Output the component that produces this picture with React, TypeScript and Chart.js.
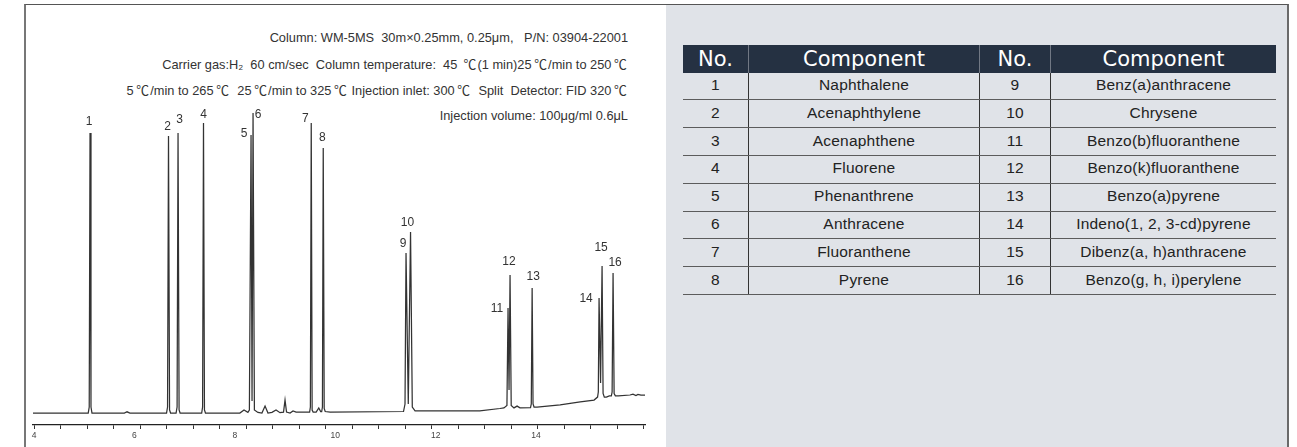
import React, { useEffect, useRef } from "react";
import { Chart, registerables } from "chart.js";

Chart.register(...registerables);

// ---- chromatogram trace (retention time in min, detector signal in arbitrary units) ----
const retentionTime: number[] = [
  3.98, 4.52, 5.08, 5.1, 5.116, 5.135, 5.155, 5.8, 5.853, 5.91,
  6.64, 6.66, 6.679, 6.7, 6.72, 6.83, 6.85, 6.869, 6.89, 6.91,
  7.34, 7.358, 7.376, 7.395, 7.415, 8.1, 8.183, 8.26, 8.29, 8.323,
  8.343, 8.363, 8.39, 8.46, 8.54, 8.602, 8.66, 8.74, 8.821, 8.9,
  8.97, 9.0, 9.03, 9.1, 9.159, 9.22, 9.49, 9.505, 9.522, 9.54,
  9.56, 9.62, 9.672, 9.71, 9.73, 9.745, 9.761, 9.78, 9.8, 9.9,
  11.36, 11.39, 11.41, 11.455, 11.5, 11.535, 11.59, 12.88, 13.28, 13.36,
  13.42, 13.442, 13.462, 13.482, 13.505, 13.56, 13.622, 13.68, 13.89, 13.905,
  13.922, 13.94, 13.96, 14.02, 14.48, 14.88, 15.155, 15.225, 15.24, 15.255,
  15.285, 15.315, 15.335, 15.36, 15.4, 15.46, 15.5, 15.515, 15.534, 15.555,
  15.58, 15.64, 15.87, 15.93, 15.99, 16.03, 16.09, 16.17,
];
const detectorSignal: number[] = [
  4.0, 4.0, 4.0, 6.0, 97.3, 6.0, 4.0, 4.0, 4.4, 4.0,
  4.0, 6.0, 96.3, 5.0, 4.0, 4.0, 6.0, 97.3, 5.0, 4.0,
  4.0, 6.0, 100.7, 5.0, 4.0, 4.0, 5.0, 4.2, 5.0, 96.7,
  8.0, 104.0, 5.0, 4.2, 4.0, 6.3, 4.0, 4.2, 5.0, 4.1,
  4.3, 8.3, 4.3, 4.0, 4.7, 4.3, 4.3, 6.0, 100.7, 5.0,
  4.3, 4.3, 5.7, 4.5, 4.5, 6.0, 92.3, 5.5, 4.5, 4.3,
  4.5, 7.0, 57.3, 7.0, 64.3, 6.0, 4.7, 4.7, 5.5, 5.7,
  6.5, 39.0, 11.7, 50.0, 6.5, 5.7, 6.3, 5.7, 5.8, 7.0,
  45.7, 7.0, 6.0, 6.0, 6.7, 7.7, 8.3, 9.3, 11.0, 42.3,
  14.0, 53.0, 10.5, 9.3, 9.3, 9.7, 9.7, 11.0, 50.7, 10.5,
  9.7, 9.7, 10.0, 10.3, 9.8, 10.2, 10.0, 10.0,
];

// ---- peak identification ----
const peakNumbers = ["1", "2", "3", "4", "5", "6", "7", "8", "9", "10", "11", "12", "13", "14", "15", "16"];
const peakTimes = [5.116, 6.679, 6.869, 7.376, 8.323, 8.363, 9.522, 9.761, 11.41, 11.5, 13.442, 13.482, 13.922, 15.255, 15.315, 15.534];
const peakHeights = [97.3, 96.3, 97.3, 100.7, 96.7, 104.0, 100.7, 92.3, 57.3, 64.3, 39.0, 50.0, 45.7, 42.3, 53.0, 50.7];

// ---- axis ----
const timeAxisLabels = [4, 6, 8, 10, 12, 14];
const timeAxisMarks = [4, 4.5, 5, 5.5, 6, 6.5, 7, 7.5, 8, 8.5, 9, 9.5, 10, 10.5, 11, 11.5, 12, 12.5, 13, 13.5, 14, 14.5, 15, 15.5];

// ---- texts ----
const conditionLines = [
  "Column: WM-5MS  30m×0.25mm, 0.25μm,   P/N: 03904-22001",
  "Carrier gas:H₂  60 cm/sec  Column temperature:  45 ℃(1 min)25℃/min to 250℃",
  "5℃/min to 265℃  25℃/min to 325℃ Injection inlet: 300℃  Split  Detector: FID 320℃",
  "Injection volume: 100μg/ml 0.6μL",
];
const tableHeaders = ["No.", "Component", "No.", "Component"];
const tableNumbersA = ["1", "2", "3", "4", "5", "6", "7", "8"];
const tableComponentsA = ["Naphthalene", "Acenaphthylene", "Acenaphthene", "Fluorene", "Phenanthrene", "Anthracene", "Fluoranthene", "Pyrene"];
const tableNumbersB = ["9", "10", "11", "12", "13", "14", "15", "16"];
const tableComponentsB = ["Benz(a)anthracene", "Chrysene", "Benzo(b)fluoranthene", "Benzo(k)fluoranthene", "Benzo(a)pyrene", "Indeno(1, 2, 3-cd)pyrene", "Dibenz(a, h)anthracene", "Benzo(g, h, i)perylene"];

// ---- styling (label placement relative to the apex, px) ----
const peakLabelOffsets: [number, number][] = [
  [-1, -11], [-1, -9], [1.5, -13], [0, -8], [-7, -1], [5, 2], [-6, -4], [-1, -10],
  [-3, -9], [-3, -9], [-11, 1], [-1, -13], [1, -11], [-13, 1], [-1, -18], [2, -10],
];

const SANS = "'Liberation Sans', Arial, 'Noto Sans CJK SC', sans-serif";

const peakLabelPlugin = {
  id: "peakLabels",
  afterDatasetsDraw(chart: any) {
    const { ctx, scales } = chart;
    ctx.save();
    ctx.font = `12px ${SANS}`;
    ctx.fillStyle = "#333";
    ctx.textAlign = "center";
    ctx.textBaseline = "middle";
    peakNumbers.forEach((n, i) => {
      const x = scales.x.getPixelForValue(peakTimes[i]) + peakLabelOffsets[i][0];
      const y = scales.y.getPixelForValue(peakHeights[i]) + peakLabelOffsets[i][1];
      ctx.fillText(n, x, y);
    });
    ctx.restore();
  },
};

const colWidths = [66, 231, 71, 225];

function renderCondition(line: string) {
  const parts = line.split("℃");
  const out: React.ReactNode[] = [];
  parts.forEach((p, i) => {
    out.push(<span key={"t" + i}>{p}</span>);
    if (i < parts.length - 1)
      out.push(
        <span
          key={"c" + i}
          style={{ fontFamily: "'Noto Sans CJK SC', sans-serif", marginLeft: 2.6, marginRight: 1.2 }}
        >
          ℃
        </span>
      );
  });
  return out;
}

export default function App() {
  const canvasRef = useRef<HTMLCanvasElement | null>(null);

  useEffect(() => {
    if (!canvasRef.current) return;
    const chart = new Chart(canvasRef.current, {
      type: "line",
      data: {
        datasets: [
          {
            data: retentionTime.map((t, i) => ({ x: t, y: detectorSignal[i] })),
            borderColor: "#333",
            borderWidth: 1.25,
            pointRadius: 0,
            tension: 0,
            fill: false,
          },
        ],
      },
      options: {
        responsive: false,
        animation: false,
        devicePixelRatio: 1,
        events: [],
        layout: { padding: { left: 7, right: 20, top: 104, bottom: 3.8 } },
        plugins: {
          legend: { display: false },
          tooltip: { enabled: false },
        },
        scales: {
          x: {
            type: "linear",
            position: "bottom",
            weight: 1,
            min: 3.98,
            max: 16.17,
            afterBuildTicks: (s: any) => {
              s.ticks = timeAxisLabels.map((v) => ({ value: v }));
            },
            grid: { display: false, drawTicks: false, tickLength: 0 },
            border: { display: false },
            ticks: {
              padding: 2,
              autoSkip: false,
              maxRotation: 0,
              color: "#444",
              font: { size: 8.5, family: SANS },
            },
          },
          xMarks: {
            type: "linear",
            position: "bottom",
            weight: 0,
            min: 3.98,
            max: 15.52,
            afterBuildTicks: (s: any) => {
              s.ticks = timeAxisMarks.map((v) => ({ value: v }));
            },
            grid: {
              display: true,
              drawOnChartArea: false,
              drawTicks: true,
              tickLength: 4,
              color: "#333",
              lineWidth: 1,
            },
            border: { display: true, color: "#222", width: 1.3 },
            ticks: { display: false },
          },
          y: { display: false, min: 0, max: 105 },
        },
      },
      plugins: [peakLabelPlugin],
    } as any);
    return () => chart.destroy();
  }, []);

  const cellBase: React.CSSProperties = {
    boxSizing: "border-box",
    display: "flex",
    alignItems: "center",
    justifyContent: "center",
    whiteSpace: "nowrap",
  };

  const rows = tableNumbersA.map((n, i) => [n, tableComponentsA[i], tableNumbersB[i], tableComponentsB[i]]);

  return (
    <div
      style={{
        position: "fixed",
        left: 0,
        top: 0,
        width: 1297,
        height: 447,
        background: "#fff",
        overflow: "hidden",
        fontFamily: SANS,
      }}
    >
      {/* grey right panel */}
      <div style={{ position: "absolute", left: 666, top: 5, width: 621, height: 450, background: "#e0e3e8" }} />
      {/* frame */}
      <div
        style={{
          position: "absolute",
          left: 24,
          top: 4,
          width: 1265,
          height: 470,
          boxSizing: "border-box",
          borderTop: "1px solid #555",
          borderLeft: "2px solid #777",
          borderRight: "2px solid #6a6a6a",
        }}
      />
      {/* conditions */}
      {conditionLines.map((line, i) => (
        <div
          key={i}
          style={{
            position: "absolute",
            left: 26,
            width: 602,
            top: 30 + i * 26,
            height: 16,
            lineHeight: "16px",
            fontSize: 12.8,
            color: "#333",
            textAlign: "right",
            whiteSpace: "pre",
          }}
        >
          {renderCondition(line)}
        </div>
      ))}
      <canvas
        ref={canvasRef}
        width={639}
        height={441}
        style={{ position: "absolute", left: 26, top: 6, width: 639, height: 441 }}
      />
      {/* component table */}
      <div style={{ position: "absolute", left: 683, top: 45, width: 593 }}>
        <div style={{ display: "flex", height: 27.7, background: "#253142" }}>
          {tableHeaders.map((h, i) => (
            <div
              key={i}
              style={{
                ...cellBase,
                width: colWidths[i],
                height: 27.7,
                color: "#fff",
                fontFamily: "'DejaVu Sans', sans-serif",
                fontSize: 21,
                borderRight: i < 3 ? "1px solid rgba(255,255,255,0.35)" : "none",
              }}
            >
              {h}
            </div>
          ))}
        </div>
        {rows.map((r, ri) => (
          <div
            key={ri}
            style={{ display: "flex", height: 27.8, boxSizing: "border-box", borderBottom: "1.5px solid #5c5c5c" }}
          >
            {r.map((c, ci) => (
              <div
                key={ci}
                style={{
                  ...cellBase,
                  width: colWidths[ci],
                  color: "#222",
                  fontSize: 15.5,
                  letterSpacing: 0.2,
                  paddingBottom: 2,
                  borderRight: ci < 3 ? "1px solid #333" : "none",
                }}
              >
                {c}
              </div>
            ))}
          </div>
        ))}
      </div>
    </div>
  );
}
